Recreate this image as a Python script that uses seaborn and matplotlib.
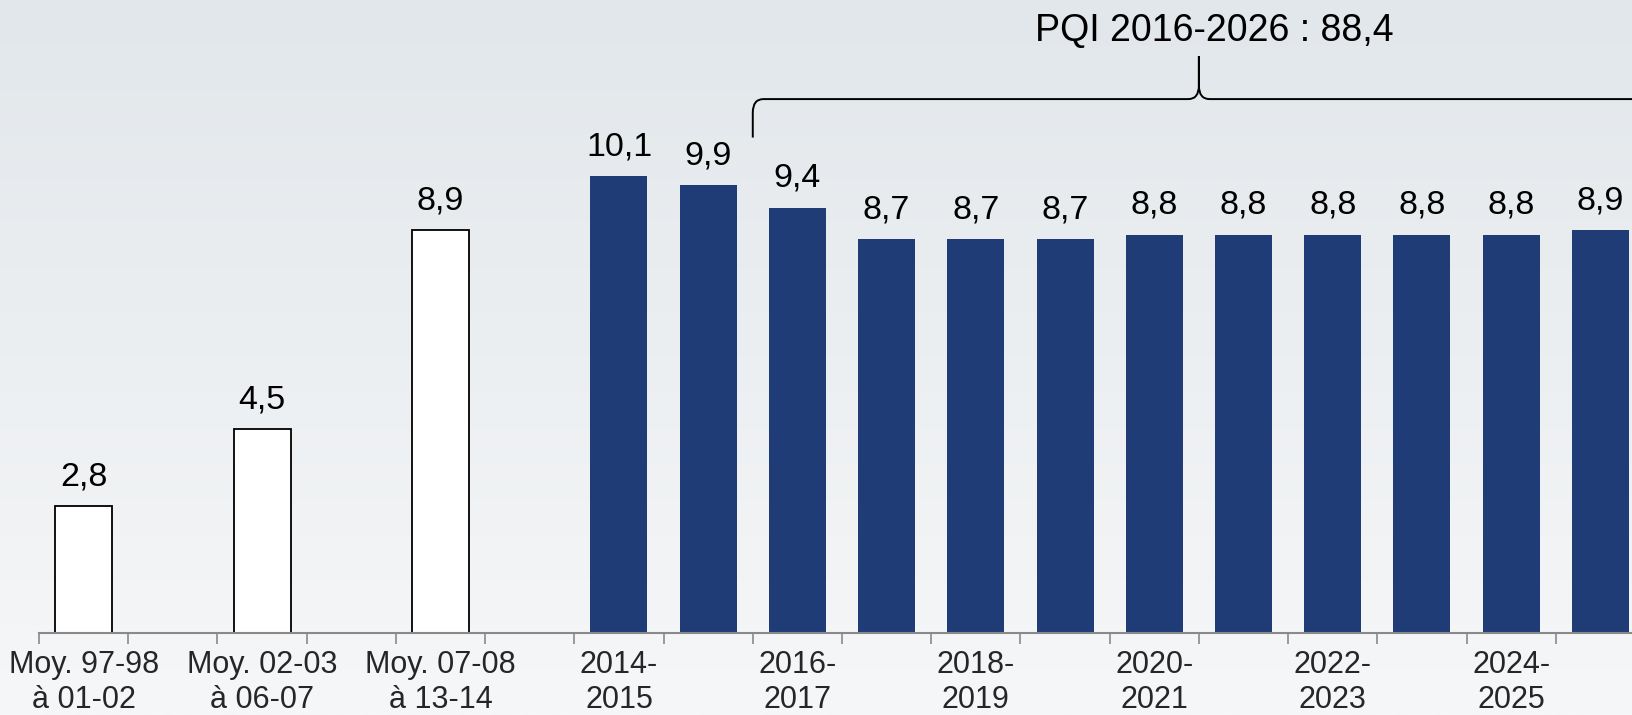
import numpy as np
import pandas as pd
import matplotlib.pyplot as plt
from matplotlib.path import Path
from matplotlib.patches import PathPatch
import seaborn as sns

# -------------------- Data --------------------
slots = ['m97', 'gap1', 'm02', 'gap2', 'm07', 'gap3',
         '2014-2015', '2015-2016', '2016-2017', '2017-2018', '2018-2019', '2019-2020',
         '2020-2021', '2021-2022', '2022-2023', '2023-2024', '2024-2025', '2025-2026']
tick_labels = ['Moy. 97-98\nà 01-02', '', 'Moy. 02-03\nà 06-07', '', 'Moy. 07-08\nà 13-14', '',
               '2014-\n2015', '', '2016-\n2017', '', '2018-\n2019', '',
               '2020-\n2021', '', '2022-\n2023', '', '2024-\n2025', '']
categories = ['m97', 'm02', 'm07',
              '2014-2015', '2015-2016', '2016-2017', '2017-2018', '2018-2019', '2019-2020',
              '2020-2021', '2021-2022', '2022-2023', '2023-2024', '2024-2025', '2025-2026']
values = [2.8, 4.5, 8.9,
          10.1, 9.9, 9.4, 8.7, 8.7, 8.7, 8.8, 8.8, 8.8, 8.8, 8.8, 8.9]
kind = ['moyenne'] * 3 + ['annuel'] * 12
pqi_start, pqi_end = '2016-2017', '2025-2026'
pqi_label = 'PQI 2016-2026 : 88,4'

df = pd.DataFrame({'cat': categories, 'val': values, 'kind': kind})

NAVY = '#1f3c77'

# -------------------- Figure --------------------
sns.set_theme(style='white')
plt.rcParams['font.family'] = ['Liberation Sans', 'DejaVu Sans']

fig = plt.figure(figsize=(16.33, 7.15), dpi=100)

# background gradient
bg = fig.add_axes([0, 0, 1, 1], zorder=-1)
grad = np.linspace(0, 1, 256).reshape(-1, 1)
cmap = sns.blend_palette(['#e2e7eb', '#f6f7f8'], as_cmap=True)
bg.imshow(grad, aspect='auto', cmap=cmap, extent=[0, 1, 0, 1], origin='upper')
bg.axis('off')

ax = fig.add_axes([39 / 1633, 82 / 715, 1606 / 1633, 633 / 715])
ax.set_facecolor('none')

sns.barplot(data=df, x='cat', y='val', hue='kind', order=slots,
            palette={'moyenne': 'white', 'annuel': NAVY},
            width=0.64, legend=False, ax=ax, saturation=1)

for p in ax.patches:
    if p.get_facecolor()[:3] == (1.0, 1.0, 1.0):
        p.set_edgecolor('black')
        p.set_linewidth(1.3)
    else:
        p.set_edgecolor(NAVY)
        p.set_linewidth(0)

# value labels
for c, v in zip(categories, values):
    ax.annotate(f'{v:.1f}'.replace('.', ','), (slots.index(c), v),
                xytext=(0, 10), textcoords='offset points',
                ha='center', va='bottom', fontsize=24.5, color='black')

ax.set_xlim(-0.5, len(slots) - 0.5)
ax.set_ylim(0, 13.99)
ax.set_xlabel('')
ax.set_ylabel('')
ax.set_yticks([])
ax.set_xticks(range(len(slots)))
ax.set_xticklabels(tick_labels, fontsize=22, linespacing=1.25)
ax.set_xticks(np.arange(-0.5, len(slots), 1), minor=True)
ax.tick_params(axis='x', which='major', length=0, pad=12)
ax.tick_params(axis='x', which='minor', length=8, width=1.2, color='#8a8a8a', bottom=True)
for s in ['top', 'right', 'left']:
    ax.spines[s].set_visible(False)
ax.spines['bottom'].set_color('#8a8a8a')
ax.spines['bottom'].set_linewidth(1.5)

# curly brace over the PQI period
x0 = slots.index(pqi_start) - 0.5
x1 = slots.index(pqi_end) + 0.5
xm = (x0 + x1) / 2
yb = 11.8
ylow = 10.95
ytip = 12.75
r = 0.12
verts = [(x0, ylow), (x0, yb - 0.3), (x0, yb), (x0 + r, yb),
         (xm - r, yb), (xm, yb), (xm, yb + 0.3), (xm, ytip),
         (xm, yb + 0.3), (xm, yb), (xm + r, yb),
         (x1 - r, yb), (x1, yb), (x1, yb - 0.3), (x1, ylow)]
codes = [Path.MOVETO, Path.LINETO, Path.CURVE3, Path.CURVE3,
         Path.LINETO, Path.CURVE3, Path.CURVE3, Path.LINETO,
         Path.LINETO, Path.CURVE3, Path.CURVE3,
         Path.LINETO, Path.CURVE3, Path.CURVE3, Path.LINETO]
ax.add_patch(PathPatch(Path(verts, codes), fill=False, lw=1.4, color='black', clip_on=False))
ax.text(xm + 0.17, 13.3, pqi_label, ha='center', va='center', fontsize=27, color='black')

plt.savefig('out.png', dpi=100)
